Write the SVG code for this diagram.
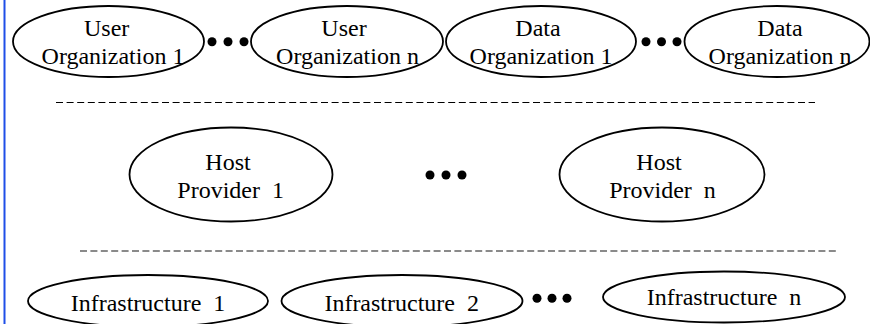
<svg xmlns="http://www.w3.org/2000/svg" width="870" height="324" viewBox="0 0 870 324">
<style>
.n{fill:#fff;stroke:#000;stroke-width:1.8}
.t{font-family:"Liberation Serif","Times New Roman",serif;font-size:24px;fill:#000;text-anchor:middle;white-space:pre}
.d{fill:#000}
</style>
<rect x="0" y="0" width="870" height="324" fill="#fff"/>
<line x1="4.5" y1="0" x2="4.5" y2="324" stroke="#1f4fe8" stroke-width="2"/>
<g id="separators">
<line x1="56" y1="102.5" x2="815" y2="102.5" stroke="#000" stroke-width="1" stroke-dasharray="7 3.6"/>
<line x1="80" y1="251" x2="838" y2="251" stroke="#8a8a8a" stroke-width="2" stroke-dasharray="7 3.4"/>
</g>
<g id="user-org-1"><ellipse class="n" cx="108.5" cy="41.5" rx="95.5" ry="35.5"/><text class="t" x="106.7" y="35.7">User</text><text class="t" x="113" y="64">Organization 1</text></g>
<g id="user-org-n"><ellipse class="n" cx="347" cy="41.5" rx="96" ry="35.5"/><text class="t" x="344" y="35.7">User</text><text class="t" x="347.5" y="64">Organization n</text></g>
<g id="data-org-1"><ellipse class="n" cx="541" cy="41.5" rx="95" ry="35.5"/><text class="t" x="538" y="35.7">Data</text><text class="t" x="541" y="64">Organization 1</text></g>
<g id="data-org-n"><ellipse class="n" cx="777" cy="41.5" rx="92.5" ry="35.5"/><text class="t" x="780" y="35.7">Data</text><text class="t" x="780" y="64">Organization n</text></g>
<g id="host-1"><ellipse class="n" cx="231" cy="174.5" rx="101.5" ry="47"/><text class="t" x="228" y="170">Host</text><text class="t" x="230.7" y="198.3">Provider  1</text></g>
<g id="host-n"><ellipse class="n" cx="662" cy="174.5" rx="102.5" ry="47"/><text class="t" x="659" y="170">Host</text><text class="t" x="662.5" y="198.3">Provider  n</text></g>
<g id="infra-1"><ellipse class="n" cx="148" cy="301" rx="120" ry="26"/><text class="t" x="148" y="311">Infrastructure  1</text></g>
<g id="infra-2"><ellipse class="n" cx="402" cy="301" rx="120.5" ry="26"/><text class="t" x="401.7" y="311">Infrastructure  2</text></g>
<g id="infra-n"><ellipse class="n" cx="724" cy="297" rx="121" ry="25.5"/><text class="t" x="724" y="305">Infrastructure  n</text></g>
<g id="ellipses">
<circle class="d" cx="212" cy="41.7" r="4.5"/><circle class="d" cx="228" cy="41.7" r="4.5"/><circle class="d" cx="244" cy="41.7" r="4.5"/>
<circle class="d" cx="646" cy="41.7" r="4.5"/><circle class="d" cx="661.5" cy="41.7" r="4.5"/><circle class="d" cx="677" cy="41.7" r="4.5"/>
<circle class="d" cx="430" cy="175" r="4.5"/><circle class="d" cx="446" cy="175" r="4.5"/><circle class="d" cx="462" cy="175" r="4.5"/>
<circle class="d" cx="537" cy="298.3" r="4.5"/><circle class="d" cx="552" cy="298.3" r="4.5"/><circle class="d" cx="567" cy="298.3" r="4.5"/>
</g>
</svg>
